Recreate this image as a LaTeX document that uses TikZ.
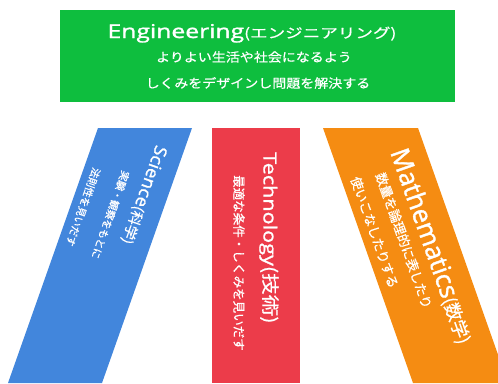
\documentclass[tikz,border=0pt]{standalone}
\usepackage{fontspec}
\setmainfont{Open Sans}[RawFeature={embolden=1.3}]
\newfontfamily\jp{Noto Sans CJK JP}[RawFeature={embolden=0.6}]
\definecolor{enggreen}{RGB}{14,190,62}
\definecolor{sciblue}{RGB}{66,134,220}
\definecolor{techred}{RGB}{236,60,74}
\definecolor{mathorange}{RGB}{245,140,18}
\begin{document}
\begin{tikzpicture}[x=1pt,y=-1pt,
  txt/.style={text=white, inner sep=0pt}]
\useasboundingbox (0,0) rectangle (498,383);
\fill[white] (0,0) rectangle (498,383);
% boxes
\node[fill=enggreen, minimum width=395pt, minimum height=92pt, anchor=north west, inner sep=0pt] (eng) at (60,10) {};
\fill[sciblue] (98,128) -- (192,128) -- (102,383) -- (8,383) -- cycle;
\node[fill=techred, minimum width=88pt, minimum height=255pt, anchor=north west, inner sep=0pt] (tech) at (212,128) {};
\fill[mathorange] (323,128) -- (418,128) -- (498,354.6) -- (498,383) -- (413,383) -- cycle;
% engineering text
\node[txt, anchor=base, xscale=1.3] (engt) at (252,38) {\fontsize{19}{19}\selectfont Engineering\jp\fontsize{13.5}{13.5}\selectfont(エンジニアリング)};
\node[txt, xscale=1.12] (eng1) at (254,57) {\jp\fontsize{12.5}{12.5}\selectfont よりよい生活や社会になるよう};
\node[txt, xscale=1.12] (eng2) at (258,83) {\jp\fontsize{12.5}{12.5}\selectfont しくみをデザインし問題を解決する};
% science
\node[txt, rotate=-109.5, xscale=1.05, anchor=west] (scit) at (161,146) {\fontsize{17.5}{17.5}\selectfont Science\jp\fontsize{14}{14}\selectfont(科学)};
\node[txt, rotate=-109.5, anchor=west] (sci1) at (126,171) {\jp\fontsize{10.3}{10.3}\selectfont 実験・観察をもとに};
\node[txt, rotate=-109.5, anchor=west] (sci2) at (97,168) {\jp\fontsize{10.3}{10.3}\selectfont 法則性を見いだす};
% technology
\node[txt, rotate=-90, xscale=1.2, anchor=west] (techt) at (269,152) {\fontsize{18}{18}\selectfont Technology\jp\fontsize{18}{18}\selectfont(技術)};
\node[txt, rotate=-90, anchor=west] (tech1) at (239,175) {\jp\fontsize{12.5}{12.5}\selectfont 最適な条件・しくみを見いだす};
% mathematics
\node[txt, rotate=-70.5, anchor=base west] (matht) at (390,152) {\fontsize{26}{26}\selectfont Mathematics\jp\fontsize{18}{18}\selectfont(数学)};
\node[txt, rotate=-70.5, anchor=west] (math1) at (380,173) {\jp\fontsize{13}{13}\selectfont 数量を論理的に表したり};
\node[txt, rotate=-70.5, anchor=west] (math2) at (355,177) {\jp\fontsize{13}{13}\selectfont 使いこなしたりする};
\end{tikzpicture}
\end{document}
